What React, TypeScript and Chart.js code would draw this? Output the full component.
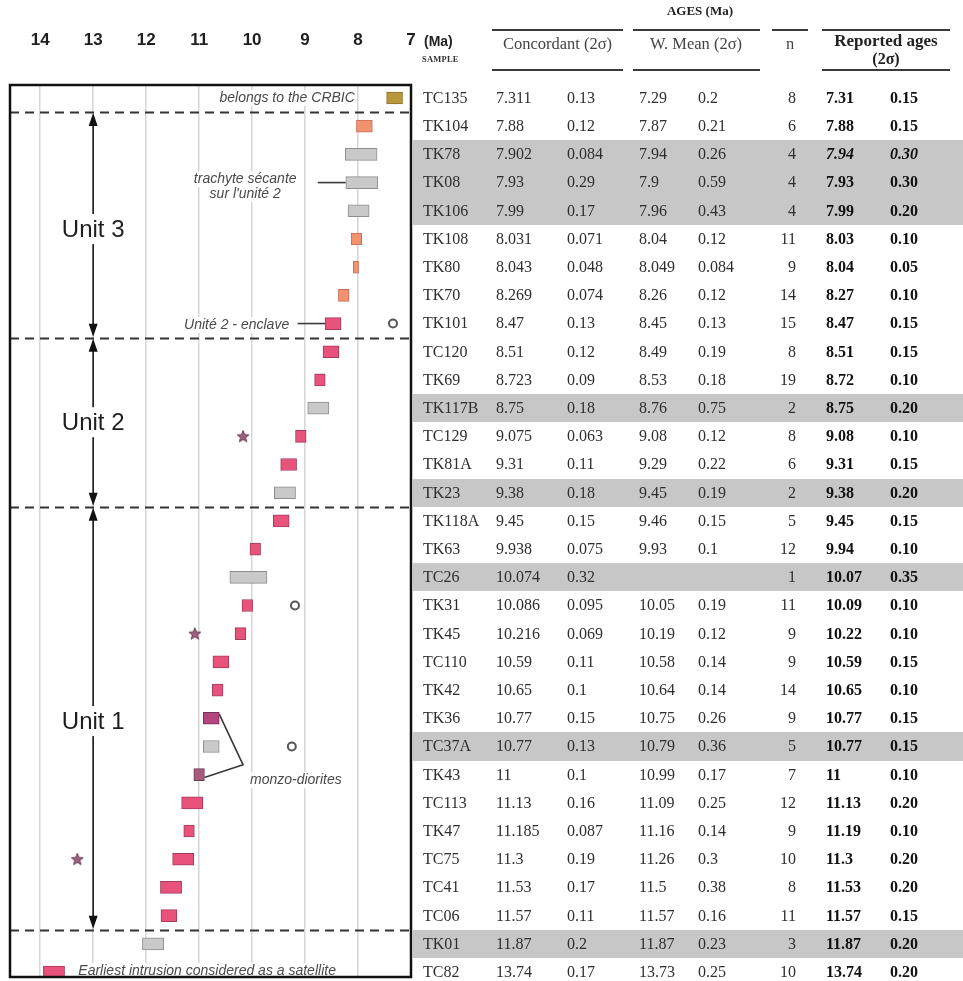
import React, { useEffect, useRef } from "react";
import { Chart, registerables } from "chart.js";
Chart.register(...registerables);

// ---------------- DATA ----------------
const samples = ["TC135","TK104","TK78","TK08","TK106","TK108","TK80","TK70","TK101","TC120","TK69","TK117B","TC129","TK81A","TK23","TK118A","TK63","TC26","TK31","TK45","TC110","TK42","TK36","TC37A","TK43","TC113","TK47","TC75","TC41","TC06","TK01","TC82"];
const concAge = [7.311,7.88,7.902,7.93,7.99,8.031,8.043,8.269,8.47,8.51,8.723,8.75,9.075,9.31,9.38,9.45,9.938,10.074,10.086,10.216,10.59,10.65,10.77,10.77,11,11.13,11.185,11.3,11.53,11.57,11.87,13.74];
const concErr = [0.13,0.12,0.084,0.29,0.17,0.071,0.048,0.074,0.13,0.12,0.09,0.18,0.063,0.11,0.18,0.15,0.075,0.32,0.095,0.069,0.11,0.1,0.15,0.13,0.1,0.16,0.087,0.19,0.17,0.11,0.2,0.17];
const wmAge = [7.29,7.87,7.94,7.9,7.96,8.04,8.049,8.26,8.45,8.49,8.53,8.76,9.08,9.29,9.45,9.46,9.93,null,10.05,10.19,10.58,10.64,10.75,10.79,10.99,11.09,11.16,11.26,11.5,11.57,11.87,13.73];
const wmErr = [0.2,0.21,0.26,0.59,0.43,0.12,0.084,0.12,0.13,0.19,0.18,0.75,0.12,0.22,0.19,0.15,0.1,null,0.19,0.12,0.14,0.14,0.26,0.36,0.17,0.25,0.14,0.3,0.38,0.16,0.23,0.25];
const nAnalyses = [8,6,4,4,4,11,9,14,15,8,19,2,8,6,2,5,12,1,11,9,9,14,9,5,7,12,9,10,8,11,3,10];
const reportedAge = [7.31,7.88,7.94,7.93,7.99,8.03,8.04,8.27,8.47,8.51,8.72,8.75,9.08,9.31,9.38,9.45,9.94,10.07,10.09,10.22,10.59,10.65,10.77,10.77,11,11.13,11.19,11.3,11.53,11.57,11.87,13.74];
const reportedErr = [0.15,0.15,0.3,0.3,0.2,0.1,0.05,0.1,0.15,0.15,0.1,0.2,0.1,0.15,0.2,0.15,0.1,0.35,0.1,0.1,0.15,0.1,0.15,0.15,0.1,0.2,0.1,0.2,0.2,0.15,0.2,0.2];
const barGroup = ["crbic","unit3","gray","gray","gray","unit3","unit3","unit3","pink","pink","pink","gray","pink","pink","gray","pink","pink","gray","pink","pink","pink","pink","monzo1","gray","monzo2","pink","pink","pink","pink","pink","gray","pink"];
const italicReported = ["TK78"];
const circleAges = [{ age: 7.34, sample: "TK101" }, { age: 9.19, sample: "TK31" }, { age: 9.25, sample: "TC37A" }];
const starAges = [{ age: 10.17, sample: "TC129" }, { age: 11.08, sample: "TK45" }, { age: 13.3, sample: "TC75" }];
const xTicks = [7, 8, 9, 10, 11, 12, 13, 14];
const unitSeparators = [0.5, 8.5, 14.5, 29.5];
const units = [
  { label: "Unit 3", from: 0.5, to: 8.5, at: 4.65 },
  { label: "Unit 2", from: 8.5, to: 14.5, at: 11.5 },
  { label: "Unit 1", from: 14.5, to: 29.5, at: 22.1 },
];
const unitArrowAge = 13;

// ---------------- STYLE ----------------
const groupFill: Record<string, string> = {
  crbic: "#b9973c", unit3: "#f2936f", gray: "#c9c9c9", pink: "#e8537b", monzo1: "#b4467f", monzo2: "#a55b79",
};
const groupBorder: Record<string, string> = {
  crbic: "#8a6e2a", unit3: "#c66c58", gray: "#8e8e8e", pink: "#a63a5c", monzo1: "#7a2d56", monzo2: "#6f3b52",
};

const CANVAS_W = 420;
const CANVAS_H = 981;
const PLOT_TOP = 85;
const PLOT_BOTTOM = 977;
const ROW0 = 98;
const ROWH = 28.194;
const yMin = -(ROW0 - PLOT_TOP) / ROWH;
const yMax = yMin + (PLOT_BOTTOM - PLOT_TOP) / ROWH;
const rowIndex = (s: string) => samples.indexOf(s);

const textNotes = [
  { lines: ["belongs to the CRBIC"], x: 8.06, y: 0, align: "right" },
  { lines: ["trachyte sécante", "sur l'unité 2"], x: 10.13, y: 2.88, align: "center" },
  { lines: ["Unité 2 - enclave"], x: 9.3, y: 8.05, align: "right" },
  { lines: ["monzo-diorites"], x: 10.04, y: 24.2, align: "left" },
  { lines: ["Earliest intrusion considered as a satellite"], x: 13.28, y: 30.97, align: "left" },
];
const leaderLines = [
  [{ x: 8.76, y: 3 }, { x: 8.23, y: 3 }],
  [{ x: 9.14, y: 8 }, { x: 8.62, y: 8 }],
  [{ x: 10.62, y: 21.85 }, { x: 10.17, y: 23.65 }, { x: 10.9, y: 24.1 }],
];

function makeStar(): HTMLCanvasElement {
  const c = document.createElement("canvas");
  c.width = 14; c.height = 14;
  const g = c.getContext("2d")!;
  g.beginPath();
  for (let i = 0; i < 10; i++) {
    const r = i % 2 === 0 ? 6.3 : 2.7;
    const a = -Math.PI / 2 + (i * Math.PI) / 5;
    const px = 7 + r * Math.cos(a), py = 7.4 + r * Math.sin(a);
    if (i === 0) g.moveTo(px, py); else g.lineTo(px, py);
  }
  g.closePath();
  g.fillStyle = "#9d5f7e";
  g.fill();
  g.strokeStyle = "#6c3c56";
  g.lineWidth = 1;
  g.stroke();
  return c;
}

const overlayPlugin = {
  id: "overlay",
  afterDatasetsDraw(chart: any) {
    const { ctx, chartArea: a, scales } = chart;
    const xs = scales.x, ys = scales.y;
    ctx.save();
    textNotes.forEach((n) => {
      ctx.font = 'italic 14px "Liberation Sans", Arial, sans-serif';
      ctx.textBaseline = "middle";
      const px = xs.getPixelForValue(n.x);
      const py0 = ys.getPixelForValue(n.y);
      n.lines.forEach((t, k) => {
        const w = ctx.measureText(t).width;
        const py = py0 + k * 15;
        let left = px;
        if (n.align === "right") left = px - w;
        if (n.align === "center") left = px - w / 2;
        ctx.fillStyle = "#ffffff";
        ctx.fillRect(left - 2, py - 8, w + 4, 16);
        ctx.fillStyle = "#4a4a4a";
        ctx.textAlign = "left";
        ctx.fillText(t, left, py);
      });
    });
    ctx.setLineDash([9, 6]);
    ctx.lineWidth = 2;
    ctx.strokeStyle = "#333";
    unitSeparators.forEach((v) => {
      const py = Math.round(ys.getPixelForValue(v)) + 0.5;
      ctx.beginPath();
      ctx.moveTo(a.left, py);
      ctx.lineTo(a.right, py);
      ctx.stroke();
    });
    ctx.setLineDash([]);
    const ax = xs.getPixelForValue(unitArrowAge);
    units.forEach((u) => {
      const y1 = ys.getPixelForValue(u.from);
      const y2 = ys.getPixelForValue(u.to);
      ctx.strokeStyle = "#111";
      ctx.lineWidth = 1.5;
      ctx.beginPath();
      ctx.moveTo(ax, y1 + 10);
      ctx.lineTo(ax, y2 - 10);
      ctx.stroke();
      ctx.fillStyle = "#111";
      ctx.beginPath();
      ctx.moveTo(ax, y1 + 1);
      ctx.lineTo(ax - 4.5, y1 + 14);
      ctx.lineTo(ax + 4.5, y1 + 14);
      ctx.closePath();
      ctx.fill();
      ctx.beginPath();
      ctx.moveTo(ax, y2 - 1);
      ctx.lineTo(ax - 4.5, y2 - 14);
      ctx.lineTo(ax + 4.5, y2 - 14);
      ctx.closePath();
      ctx.fill();
      ctx.font = '24px "Liberation Sans", Arial, sans-serif';
      const w = ctx.measureText(u.label).width;
      const py = ys.getPixelForValue(u.at);
      ctx.fillStyle = "#ffffff";
      ctx.fillRect(ax - w / 2 - 3, py - 15, w + 6, 30);
      ctx.fillStyle = "#1e1e1e";
      ctx.textAlign = "center";
      ctx.textBaseline = "middle";
      ctx.fillText(u.label, ax, py + 1);
    });
    ctx.strokeStyle = "#111";
    ctx.lineWidth = 2.5;
    ctx.strokeRect(a.left, a.top, a.right - a.left, a.bottom - a.top);
    ctx.restore();
  },
};

function AgeChart() {
  const ref = useRef<HTMLCanvasElement | null>(null);
  useEffect(() => {
    if (!ref.current) return;
    const star = makeStar();
    const datasets: any[] = [
      {
        type: "bar",
        data: samples.map((s, i) => ({ x: [reportedAge[i] - reportedErr[i], reportedAge[i] + reportedErr[i]], y: i })),
        backgroundColor: barGroup.map((g) => groupFill[g]),
        borderColor: barGroup.map((g) => groupBorder[g]),
        borderWidth: 1,
        borderSkipped: false,
        barThickness: 12,
        order: 2,
      },
      {
        type: "scatter",
        data: circleAges.map((c) => ({ x: c.age, y: rowIndex(c.sample) })),
        pointStyle: "circle",
        pointRadius: 4,
        backgroundColor: "#ffffff",
        borderColor: "#555",
        borderWidth: 2,
        order: 1,
      },
      {
        type: "scatter",
        data: starAges.map((c) => ({ x: c.age, y: rowIndex(c.sample) })),
        pointStyle: star,
        pointRadius: 7,
        order: 1,
      },
      ...leaderLines.map((l) => ({
        type: "line",
        data: l,
        borderColor: "#3a3a3a",
        borderWidth: 1.6,
        pointRadius: 0,
        fill: false,
        tension: 0,
        order: 3,
      })),
    ];
    const chart = new Chart(ref.current, {
      type: "bar",
      data: { datasets },
      options: {
        indexAxis: "y",
        animation: false,
        responsive: false,
        events: [],
        layout: { autoPadding: false, padding: { left: 10, right: 9, top: 0, bottom: CANVAS_H - PLOT_BOTTOM } },
        plugins: { legend: { display: false }, tooltip: { enabled: false } },
        scales: {
          x: {
            type: "linear",
            position: "top",
            reverse: true,
            min: 7,
            max: 14.57,
            afterFit: (s: any) => { s.height = PLOT_TOP; },
            afterBuildTicks: (s: any) => { s.ticks = xTicks.map((v) => ({ value: v })); },
            border: { display: false },
            grid: { color: "#d6d6d6", lineWidth: 1.5, drawTicks: false },
            ticks: {
              padding: 34,
              color: "#1e1e1e",
              font: { family: '"Liberation Sans", Arial, sans-serif', size: 17, weight: "bold" },
              callback: (v: any) => String(v),
            },
          },
          y: { type: "linear", offset: false, min: yMin, max: yMax, reverse: true, display: false, grid: { offset: false } },
        },
      },
      plugins: [overlayPlugin],
    } as any);
    return () => chart.destroy();
  }, []);
  return <canvas ref={ref} width={CANVAS_W} height={CANVAS_H} style={{ position: "absolute", left: 0, top: 0, width: CANVAS_W, height: CANVAS_H }} />;
}

const fmt = (v: number | null) => (v === null ? "" : String(v));

const colX = { sample: 423, conc: 496, concErr: 567, wm: 639, wmErr: 698, nRight: 796, rep: 826, repErr: 890 };

function DataTable() {
  const serif = '"Liberation Serif", "Times New Roman", serif';
  const cell = (left: number, top: number, text: string, extra: any = {}) => (
    <div style={{ position: "absolute", left, top, height: ROWH, lineHeight: ROWH + "px", whiteSpace: "nowrap", ...extra }}>{text}</div>
  );
  const hline = (x1: number, x2: number, y: number, key: string) => (
    <div key={key} style={{ position: "absolute", left: x1, top: y, width: x2 - x1, height: 1.5, background: "#3a3a3a" }} />
  );
  return (
    <div style={{ position: "absolute", left: 0, top: 0, width: 963, height: 981, fontFamily: serif, fontSize: 16, color: "#2e2e2e", pointerEvents: "none" }}>
      {samples.map((s, i) => barGroup[i] === "gray" ? (
        <div key={"sh" + i} style={{ position: "absolute", left: 413, width: 550, top: ROW0 + ROWH * i - ROWH / 2, height: ROWH, background: "#c7c7c7" }} />
      ) : null)}
      <div style={{ position: "absolute", left: 640, width: 120, top: 3, textAlign: "center", fontWeight: "bold", fontSize: 13, color: "#222" }}>AGES (Ma)</div>
      {hline(492, 623, 29, "t1")}{hline(633, 760, 29, "t2")}{hline(772, 808, 29, "t3")}{hline(822, 950, 29, "t4")}
      {hline(492, 623, 69, "b1")}{hline(633, 760, 69, "b2")}{hline(822, 950, 69, "b4")}
      <div style={{ position: "absolute", left: 424, top: 33, fontFamily: '"Liberation Sans", Arial, sans-serif', fontWeight: "bold", fontSize: 14, color: "#222" }}>(Ma)</div>
      <div style={{ position: "absolute", left: 422, top: 54, fontWeight: "bold", fontSize: 8.5, color: "#333", letterSpacing: 0.2 }}>SAMPLE</div>
      <div style={{ position: "absolute", left: 487, width: 141, top: 34, textAlign: "center", fontSize: 16.5, color: "#444" }}>Concordant (2σ)</div>
      <div style={{ position: "absolute", left: 631, width: 130, top: 34, textAlign: "center", fontSize: 16.5, color: "#444" }}>W. Mean (2σ)</div>
      <div style={{ position: "absolute", left: 771, width: 38, top: 34, textAlign: "center", fontSize: 16.5, color: "#444" }}>n</div>
      <div style={{ position: "absolute", left: 818, width: 136, top: 31, textAlign: "center", fontSize: 17, fontWeight: "bold", color: "#222" }}>Reported ages</div>
      <div style={{ position: "absolute", left: 818, width: 136, top: 50, textAlign: "center", fontSize: 16, fontWeight: "bold", color: "#222" }}>(2σ)</div>
      {samples.map((s, i) => {
        const top = ROW0 + ROWH * i - ROWH / 2;
        const it = italicReported.includes(s);
        return (
          <React.Fragment key={s}>
            {cell(colX.sample, top, s)}
            {cell(colX.conc, top, fmt(concAge[i]))}
            {cell(colX.concErr, top, fmt(concErr[i]))}
            {cell(colX.wm, top, fmt(wmAge[i]))}
            {cell(colX.wmErr, top, fmt(wmErr[i]))}
            {cell(colX.nRight - 40, top, String(nAnalyses[i]), { width: 40, textAlign: "right" })}
            {cell(colX.rep, top, String(reportedAge[i]), { fontWeight: "bold", color: "#111", fontStyle: it ? "italic" : "normal" })}
            {cell(colX.repErr, top, reportedErr[i].toFixed(2), { fontWeight: "bold", color: "#111", fontStyle: it ? "italic" : "normal" })}
          </React.Fragment>
        );
      })}
    </div>
  );
}

export default function App() {
  return (
    <div style={{ position: "absolute", left: 0, top: 0, width: 963, height: 981, background: "#fff", overflow: "hidden" }}>
      <AgeChart />
      <DataTable />
    </div>
  );
}
